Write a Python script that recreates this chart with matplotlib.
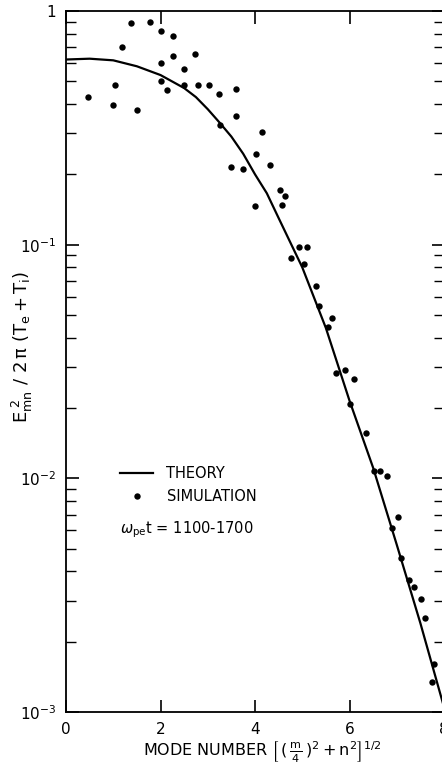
import matplotlib
matplotlib.use("Agg")
import matplotlib.pyplot as plt
from matplotlib.ticker import LogLocator, FixedLocator, NullFormatter, FixedFormatter

# Theory curve
theory_x = [0.0, 0.5, 1.0, 1.5, 2.0, 2.5, 2.75, 3.0, 3.25, 3.5, 3.75, 4.0, 4.25, 4.5,
            5.0, 5.5, 6.0, 6.5, 7.0, 7.5, 8.0]
theory_y = [0.62, 0.625, 0.615, 0.58, 0.532, 0.468, 0.428, 0.38, 0.333, 0.29, 0.245,
            0.20, 0.166, 0.13, 0.080, 0.044, 0.0215, 0.0111, 0.0052, 0.0024, 0.00105]

# Simulation points
sim_x = [0.47, 0.99, 1.04, 1.19, 1.38, 1.50, 1.77, 2.01, 2.26, 2.01, 2.27, 2.01, 2.13,
         2.49, 2.49, 2.74, 2.80, 3.02, 3.23, 3.60, 3.59, 3.26, 4.14, 4.02, 3.50, 3.74,
         4.31, 4.00, 4.52, 4.63, 4.58, 4.94, 5.11, 4.77, 5.03, 5.30, 5.35, 5.62, 5.54,
         5.72, 5.90, 6.10, 6.02, 6.34, 6.51, 6.65, 6.79, 7.03, 6.90, 7.10, 7.25, 7.36,
         7.51, 7.60, 7.78, 7.75]
sim_y = [0.43, 0.395, 0.48, 0.70, 0.89, 0.378, 0.90, 0.82, 0.78, 0.60, 0.64, 0.50, 0.457,
         0.565, 0.48, 0.655, 0.48, 0.483, 0.442, 0.463, 0.357, 0.325, 0.304, 0.245, 0.215,
         0.21, 0.22, 0.146, 0.172, 0.162, 0.148, 0.0974, 0.098, 0.0877, 0.0827, 0.0665,
         0.0547, 0.0486, 0.0443, 0.0281, 0.029, 0.0265, 0.0209, 0.0157, 0.0107, 0.0107,
         0.0102, 0.00684, 0.00613, 0.00457, 0.00366, 0.00343, 0.00305, 0.00252, 0.0016,
         0.00135]

x_ticks = [0, 2, 4, 6, 8]
y_ticks = [1e-3, 1e-2, 1e-1, 1]
y_tick_labels = [r"$10^{-3}$", r"$10^{-2}$", r"$10^{-1}$", "1"]

plt.rcParams['font.family'] = ['DejaVu Sans']
plt.rcParams['mathtext.fontset'] = 'dejavusans'

W, H = 442, 780
fig = plt.figure(figsize=(W / 100, H / 100), dpi=100)
left, right, top, bottom = 66, 444, 11, 712
ax = fig.add_axes([left / W, 1 - bottom / H, (right - left) / W, (bottom - top) / H])

ax.plot(theory_x, theory_y, color='black', lw=1.6, label='THEORY')
ax.plot(sim_x, sim_y, 'o', color='black', ms=4.6, mec='none', label='SIMULATION')

ax.set_yscale('log')
ax.set_xlim(0, 8)
ax.set_ylim(1e-3, 1)

ax.xaxis.set_major_locator(FixedLocator(x_ticks))
ax.yaxis.set_major_locator(FixedLocator(y_ticks))
ax.yaxis.set_major_formatter(FixedFormatter(y_tick_labels))
ax.yaxis.set_minor_locator(LogLocator(base=10, subs=range(2, 10)))
ax.yaxis.set_minor_formatter(NullFormatter())

ax.tick_params(axis='both', which='major', direction='in', length=9, width=1.2,
               top=True, right=True, labelsize=11, pad=7)
ax.tick_params(axis='y', which='minor', direction='in', length=7, width=1.0, right=True)
for s in ax.spines.values():
    s.set_linewidth(1.3)

leg = ax.legend(loc='upper left',
                bbox_to_anchor=((114 - left) / (right - left), 1 - (460 - top) / (bottom - top)),
                frameon=False, fontsize=10.5, handlelength=2.3, handletextpad=0.9,
                borderaxespad=0, labelspacing=0.55)

fig.text(120 / W, 1 - 530 / H, r"$\omega_{\mathrm{pe}}\mathrm{t}$ = 1100-1700", fontsize=10.5,
         va='center', ha='left')

fig.text(22 / W, 1 - 347 / H, r"$\mathrm{E_{mn}^{\ 2}\ /\ 2\,\pi\ (T_e + T_i)}$", rotation=90,
         fontsize=13, ha='center', va='center')
fig.text(262 / W, 1 - 752 / H,
         r"MODE NUMBER $\left[\,(\,\frac{\mathrm{m}}{4}\,)^2 + \mathrm{n}^2\right]^{1/2}$",
         fontsize=11.5, ha='center', va='center')

fig.savefig('out.png', dpi=100)
